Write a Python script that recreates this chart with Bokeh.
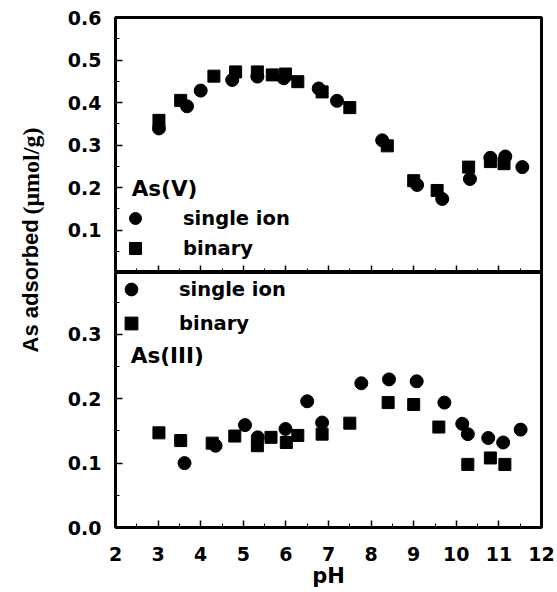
import math
from bokeh.plotting import figure
from bokeh.models import (Range1d, FixedTicker, Label, Legend, LegendItem,
                          PrintfTickFormatter, LinearAxis)
from bokeh.layouts import column, row
from bokeh.embed import file_html
from bokeh.resources import INLINE

# ---------------- data ----------------
# As(V) panel
asv_single_ph = [3.02, 3.68, 4.00, 4.74, 5.33, 5.95, 6.77, 7.20, 8.26, 9.08, 9.67, 10.32, 10.80, 11.15, 11.55]
asv_single = [0.339, 0.391, 0.428, 0.453, 0.461, 0.457, 0.433, 0.404, 0.311, 0.206, 0.173, 0.220, 0.270, 0.273, 0.248]
asv_binary_ph = [3.02, 3.53, 4.31, 4.82, 5.33, 5.68, 5.99, 6.28, 6.85, 7.50, 8.38, 9.00, 9.55, 10.29, 10.80, 11.12]
asv_binary = [0.358, 0.405, 0.462, 0.472, 0.472, 0.465, 0.467, 0.449, 0.425, 0.388, 0.298, 0.216, 0.193, 0.248, 0.261, 0.256]
# As(III) panel
asiii_single_ph = [3.62, 4.35, 5.04, 5.34, 5.99, 6.50, 6.85, 7.77, 8.42, 9.07, 9.72, 10.14, 10.27, 10.75, 11.10, 11.51]
asiii_single = [0.100, 0.127, 0.159, 0.140, 0.153, 0.196, 0.163, 0.224, 0.230, 0.227, 0.194, 0.161, 0.145, 0.139, 0.132, 0.152]
asiii_binary_ph = [3.02, 3.53, 4.27, 4.80, 5.33, 5.65, 6.01, 6.28, 6.85, 7.50, 8.40, 9.00, 9.59, 10.27, 10.80, 11.14]
asiii_binary = [0.147, 0.135, 0.131, 0.142, 0.127, 0.140, 0.132, 0.143, 0.145, 0.162, 0.194, 0.191, 0.156, 0.098, 0.108, 0.098]

x_ticks = [2, 3, 4, 5, 6, 7, 8, 9, 10, 11, 12]
top_y_ticks = [0.1, 0.2, 0.3, 0.4, 0.5, 0.6]
bot_y_ticks = [0.0, 0.1, 0.2, 0.3]
series_labels = ["single ion", "binary"]
panel_labels = ["As(V)", "As(III)"]
x_title = "pH"
y_title_a = "As adsorbed"
y_title_b = "(\u03bcmol/g)"

FONT = "DejaVu Sans"

x_minor = [t + 0.5 for t in x_ticks[:-1]]
top_minor = [round(t - 0.05, 3) for t in top_y_ticks]
bot_minor = [round(t + 0.05, 3) for t in bot_y_ticks]

x_rng = Range1d(2, 12)


def base_style(p):
    p.outline_line_color = "black"
    p.outline_line_width = 3
    p.grid.visible = False
    p.background_fill_color = "white"
    p.border_fill_color = "white"


def style_axis(ax, ticks, minor):
    ax.ticker = FixedTicker(ticks=ticks, minor_ticks=minor)
    ax.axis_line_color = None
    ax.major_tick_in = 7
    ax.major_tick_out = 0
    ax.minor_tick_in = 4
    ax.minor_tick_out = 0
    ax.major_tick_line_width = 1.5
    ax.minor_tick_line_width = 1
    ax.major_tick_line_color = "black"
    ax.minor_tick_line_color = "black"
    ax.major_label_text_font = FONT
    ax.major_label_text_font_style = "bold"
    ax.major_label_text_font_size = "19px"
    ax.major_label_text_color = "black"


def make_legend(r_circ, r_sq, gh):
    lg = Legend(items=[LegendItem(label=series_labels[0], renderers=[r_circ]),
                       LegendItem(label=series_labels[1], renderers=[r_sq])])
    lg.background_fill_alpha = 0
    lg.border_line_color = None
    lg.padding = 0
    lg.margin = 0
    lg.spacing = 0
    lg.glyph_width = 32
    lg.glyph_height = gh
    lg.label_height = gh
    lg.label_standoff = 32
    lg.label_text_font = FONT
    lg.label_text_font_style = "bold"
    lg.label_text_font_size = "19.5px"
    lg.label_text_color = "black"
    return lg


# ---------------- top panel: As(V) ----------------
top = figure(frame_width=426, frame_height=255, x_range=x_rng, y_range=Range1d(0, 0.6),
             output_backend="svg", toolbar_location=None, x_axis_location=None,
             min_border_left=60, min_border_right=15, min_border_top=17, min_border_bottom=0)
base_style(top)
style_axis(top.yaxis[0], top_y_ticks, top_minor)
top.yaxis[0].formatter = PrintfTickFormatter(format="%.1f")
top.yaxis[0].major_label_standoff = 14

# tick marks only (no labels) along the shared divider
ax_major = LinearAxis()
style_axis(ax_major, [], x_ticks)
ax_major.minor_tick_in = 7
ax_major.minor_tick_line_width = 1.5
ax_major.major_label_standoff = 0
top.add_layout(ax_major, "below")
ax_minor = LinearAxis()
style_axis(ax_minor, [], x_minor)
ax_minor.major_label_standoff = 0
top.add_layout(ax_minor, "below")

t_c = top.scatter(asv_single_ph, asv_single, marker="circle", size=13, color="black")
t_s = top.scatter(asv_binary_ph, asv_binary, marker="square", size=12, color="black")
lg_top = make_legend(t_c, t_s, 30)
lg_top.location = (4, 9)
top.add_layout(lg_top)
top.add_layout(Label(x=2.38, y=0.198, text=panel_labels[0], text_baseline="middle",
                     text_font=FONT, text_font_style="bold", text_font_size="21.5px",
                     text_color="black"))

# ---------------- bottom panel: As(III) ----------------
bot = figure(frame_width=426, frame_height=255, x_range=x_rng, y_range=Range1d(0, 0.396),
             output_backend="svg", toolbar_location=None,
             min_border_left=60, min_border_right=15, min_border_top=0, min_border_bottom=62)
base_style(bot)
style_axis(bot.yaxis[0], bot_y_ticks, bot_minor)
bot.yaxis[0].formatter = PrintfTickFormatter(format="%.1f")
bot.yaxis[0].major_label_standoff = 14
style_axis(bot.xaxis[0], x_ticks, x_minor)
bot.xaxis[0].major_label_standoff = 19
bot.xaxis[0].axis_label = x_title
bot.xaxis[0].axis_label_standoff = 0
bot.xaxis[0].axis_label_text_font = FONT
bot.xaxis[0].axis_label_text_font_style = "bold"
bot.xaxis[0].axis_label_text_font_size = "21px"
bot.xaxis[0].axis_label_text_color = "black"

b_c = bot.scatter(asiii_single_ph, asiii_single, marker="circle", size=13, color="black")
b_s = bot.scatter(asiii_binary_ph, asiii_binary, marker="square", size=12, color="black")
lg_bot = make_legend(b_c, b_s, 34)
lg_bot.location = "top_left"
bot.add_layout(lg_bot)
bot.add_layout(Label(x=2.36, y=0.267, text=panel_labels[1], text_baseline="middle",
                     text_font=FONT, text_font_style="bold", text_font_size="21.5px",
                     text_color="black"))

# ---------------- y-axis title strip ----------------
lab = figure(frame_width=55, frame_height=589, x_range=Range1d(0, 55), y_range=Range1d(589, 0),
             output_backend="svg", toolbar_location=None,
             x_axis_location=None, y_axis_location=None,
             min_border=0, min_border_left=0, min_border_right=0,
             min_border_top=0, min_border_bottom=0)
lab.grid.visible = False
lab.outline_line_color = None
lab.background_fill_color = "white"
lab.border_fill_color = "white"
lab.add_layout(Label(x=30, y=352, text=y_title_a, angle=math.pi / 2,
                     text_align="left", text_baseline="middle",
                     text_font="Liberation Sans", text_font_style="bold",
                     text_font_size="22px", text_color="black"))
lab.add_layout(Label(x=30, y=214, text=y_title_b, angle=math.pi / 2,
                     text_align="left", text_baseline="middle",
                     text_font="Liberation Serif", text_font_style="bold",
                     text_font_size="24px", text_color="black"))

layout = row(lab, column(top, bot))

open("out.html", "w").write(file_html(layout, INLINE))
